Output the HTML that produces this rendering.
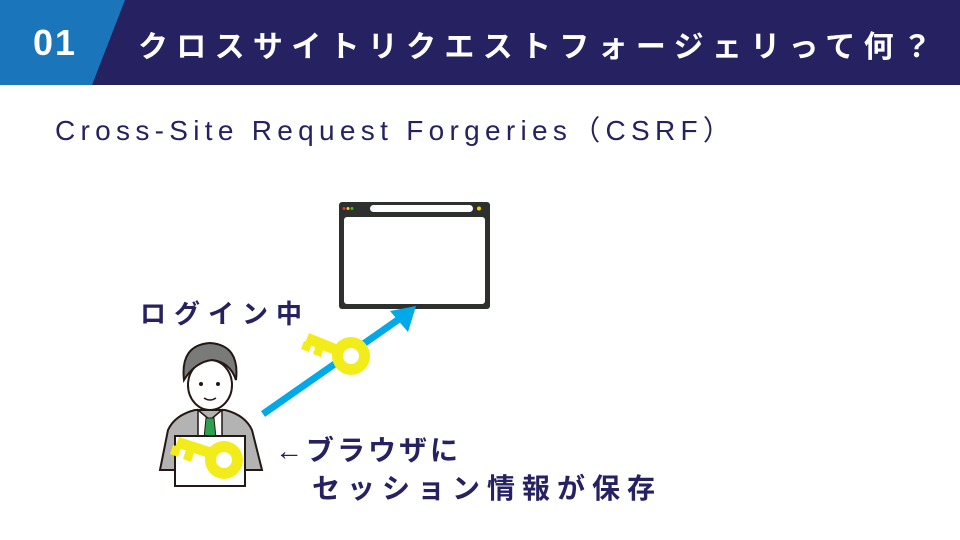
<!DOCTYPE html>
<html><head><meta charset="utf-8"><style>
body{margin:0;width:960px;height:540px;overflow:hidden;background:#fff;position:relative;font-family:"Liberation Sans","Noto Sans CJK JP",sans-serif}
.t{position:absolute;white-space:nowrap;font-weight:bold;color:#262262}
</style></head><body>
<svg width="960" height="540" style="position:absolute;left:0;top:0">
<rect x="0" y="0" width="960" height="85" fill="#262262"/>
<polygon points="0,0 125,0 92,85 0,85" fill="#1b75bb"/>
<rect x="339" y="202" width="151" height="107" rx="3" fill="#2d302d"/>
<rect x="344" y="217" width="141" height="87" rx="3" fill="#fff"/>
<rect x="370" y="205" width="103" height="7" rx="3.5" fill="#fff"/>
<circle cx="344" cy="208.5" r="1.5" fill="#e33"/><circle cx="348" cy="208.5" r="1.5" fill="#fc0"/><circle cx="352" cy="208.5" r="1.5" fill="#3b3"/>
<circle cx="479" cy="208.5" r="2" fill="#fc0"/>
<line x1="263" y1="414" x2="402" y2="317" stroke="#00a9e8" stroke-width="7"/>
<polygon points="416,306 390,311 408,332" fill="#00a9e8"/>
<g fill="#f2ec1a">
<polygon points="305,343 342,358 346,348 309,333"/>
<polygon points="304,341 312,344 309,352 301,349"/>
<polygon points="316,345 324,348 321,357 313,354"/>
<circle cx="351" cy="356" r="19"/>
</g>
<circle cx="351" cy="356" r="8" fill="#fff"/>
<path d="M160,470 L168,430 Q175,415 195,410 L225,410 Q245,415 252,430 L262,470 Z" fill="#b3b3b3" stroke="#231815" stroke-width="2"/>
<polygon points="198,410 210,420 222,410 222,440 198,440" fill="#fff" stroke="#231815" stroke-width="1.5"/>
<polygon points="206,418 214,418 216,438 204,438" fill="#2e9e4f" stroke="#231815" stroke-width="1"/>
<ellipse cx="210" cy="385" rx="22" ry="25" fill="#fff" stroke="#231815" stroke-width="2"/>
<path d="M184,380 Q180,345 210,343 Q240,345 236,380 Q230,362 212,360 Q195,362 184,380Z" fill="#7a7a7a" stroke="#231815" stroke-width="2"/>
<circle cx="201" cy="384" r="2" fill="#231815"/><circle cx="218" cy="384" r="2" fill="#231815"/>
<path d="M204,398 Q210,402 216,398" stroke="#231815" stroke-width="1.5" fill="none"/>
<rect x="175" y="436" width="70" height="50" fill="#fff" stroke="#231815" stroke-width="2"/>
<g fill="#f2ec1a">
<polygon points="175,447 215,460 219,450 179,437"/>
<polygon points="173,445 181,448 178,457 170,454"/>
<polygon points="186,450 194,453 191,462 183,459"/>
<circle cx="224" cy="460" r="19"/>
</g>
<circle cx="224" cy="460" r="8" fill="#fff"/>
</svg>
<div class="t" style="left:33px;top:22px;font-size:36px;color:#fff;letter-spacing:2px">01</div>
<div class="t" style="left:138px;top:22px;font-size:30px;color:#fff;letter-spacing:8.3px">クロスサイトリクエストフォージェリって何？</div>
<div class="t" style="left:55px;top:109px;font-size:28px;font-weight:normal;letter-spacing:5.3px">Cross-Site Request Forgeries（CSRF）</div>
<div class="t" style="left:140px;top:294px;font-size:26px;letter-spacing:8px">ログイン中</div>
<div class="t" style="left:275px;top:429px;font-size:28px;letter-spacing:3px">←ブラウザに</div>
<div class="t" style="left:312px;top:467px;font-size:28px;letter-spacing:7px">セッション情報が保存</div>
</body></html>
